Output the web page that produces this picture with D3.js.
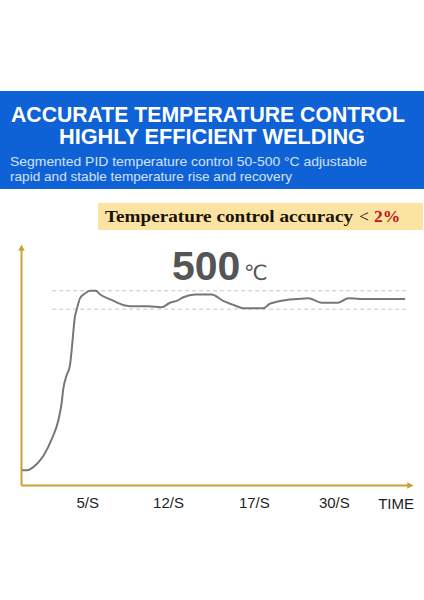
<!DOCTYPE html>
<html>
<head>
<meta charset="utf-8">
<script src="https://cdn.jsdelivr.net/npm/d3@7"></script>
<style>
  body { margin: 0; background: #fff; }
</style>
</head>
<body>
<div id="vis1"></div>
<script>
// temperature curve, time in % of the axis, temp in °C
const timeValues = [0.3, 1.4, 4.0, 5.7, 7.8, 9.5, 10.3, 10.7, 11.6, 12.4, 12.9, 13.7, 14.1, 15.0, 16.2, 17.5, 19.0,
  20.1, 23.0, 26.4, 28.9, 32.3, 35.7, 37.8, 39.5, 41.2, 44.2, 46.3, 48.4, 51.3, 54.3, 56.4, 61.5, 63.2, 64.9,
  67.4, 70.0, 72.9, 76.3, 80.5, 83.1, 86.0, 97.5];
const tempValues = [314, 314, 321, 330, 348, 369, 387, 402, 418, 428, 447, 482, 489, 502, 507, 510, 510,
  506, 500, 494, 493, 493, 492, 497, 499, 503, 506, 506, 506, 499, 494, 491, 491, 496, 498,
  500, 501, 502, 497, 497, 502, 501, 501];

// tolerance band (dashed lines)
const bandValues = [510, 490];
const bandStart = 7.9, bandEnd = 98;

// x ticks
const tickPositions = [16.8, 37.3, 59.1, 79.4];
const tickLabels = ['5/S', '12/S', '17/S', '30/S'];
const axisTitle = 'TIME';
const axisTitlePos = 95.2;

const width = 424, height = 600;
const gold = '#c9a230';

let svg1 = d3.select('#vis1')
  .append('svg')
  .attr('width', width)
  .attr('height', height)
  .attr('viewBox', [0, 0, width, height].join(' '));

// header banner
svg1.append('rect')
  .attr('x', 0).attr('y', 91)
  .attr('width', width).attr('height', 98)
  .attr('fill', '#0f62d6');

const title = [
  { t: 'ACCURATE TEMPERATURE CONTROL', x: 11, y: 121.5, w: 394 },
  { t: 'HIGHLY EFFICIENT WELDING', x: 59, y: 144, w: 306 }
];
svg1.append('g')
  .selectAll('text')
  .data(title)
  .join('text')
    .attr('x', d => d.x)
    .attr('y', d => d.y)
    .attr('textLength', d => d.w)
    .attr('lengthAdjust', 'spacingAndGlyphs')
    .attr('font-family', 'Liberation Sans, Arial, sans-serif')
    .attr('font-weight', 700)
    .attr('font-size', 22.5)
    .attr('fill', '#fff')
    .text(d => d.t);

const subtitle = [
  { t: 'Segmented PID temperature control 50-500 °C adjustable', y: 165.5, w: 357 },
  { t: 'rapid and stable temperature rise and recovery', y: 181, w: 282 }
];
svg1.append('g')
  .selectAll('text')
  .data(subtitle)
  .join('text')
    .attr('x', 10)
    .attr('y', d => d.y)
    .attr('textLength', d => d.w)
    .attr('lengthAdjust', 'spacingAndGlyphs')
    .attr('font-family', 'Liberation Sans, Arial, sans-serif')
    .attr('font-size', 13.5)
    .attr('fill', '#d3e2fb')
    .text(d => d.t);

// accuracy box
svg1.append('rect')
  .attr('x', 98).attr('y', 203)
  .attr('width', 325).attr('height', 27)
  .attr('fill', '#fbe3a2');

let acc = svg1.append('text')
  .attr('x', 105).attr('y', 222)
  .attr('font-family', 'Liberation Serif, DejaVu Serif, serif')
  .attr('font-weight', 700)
  .attr('font-size', 17.5)
  .attr('fill', '#1a1208');
acc.append('tspan').attr('textLength', 248).attr('lengthAdjust', 'spacingAndGlyphs').text('Temperature control accuracy');
acc.append('tspan').attr('font-weight', 400).attr('dx', 6).text('<');
acc.append('tspan').attr('fill', '#c1121c').attr('dx', 5).text('2%');

// chart
let x = d3.scaleLinear()
  .domain([0, 100])
  .range([21, 415]);

let y = d3.scaleLinear()
  .domain([298, 560])
  .range([485, 245]);

svg1.append('defs')
  .append('marker')
    .attr('id', 'arrow')
    .attr('viewBox', '0 -5 10 10')
    .attr('refX', 2)
    .attr('refY', 0)
    .attr('markerWidth', 3.2)
    .attr('markerHeight', 3.2)
    .attr('orient', 'auto')
  .append('path')
    .attr('d', 'M0,-5L10,0L0,5Z')
    .attr('fill', gold);

// dashed band
svg1.append('g')
  .selectAll('line')
  .data(bandValues)
  .join('line')
    .attr('x1', x(bandStart))
    .attr('x2', x(bandEnd))
    .attr('y1', d => y(d))
    .attr('y2', d => y(d))
    .attr('stroke', '#c4c4c4')
    .attr('stroke-width', 1)
    .attr('stroke-dasharray', '4,3');

// x axis
let xAxis = svg1.append('g')
  .attr('transform', `translate(0,${y(298)})`)
  .call(d3.axisBottom(x.copy().range([21, 408]).domain([0, 100 * 387 / 394]))
    .tickValues(tickPositions)
    .tickFormat((d, i) => tickLabels[i])
    .tickSize(0)
    .tickSizeOuter(0)
    .tickPadding(12));
xAxis.select('.domain')
  .attr('stroke', gold)
  .attr('stroke-width', 2)
  .attr('marker-end', 'url(#arrow)');
xAxis.selectAll('text')
  .attr('font-family', 'Liberation Sans, Arial, sans-serif')
  .attr('font-size', 15)
  .attr('fill', '#1e1e1e');

svg1.append('text')
  .attr('x', x(axisTitlePos))
  .attr('y', 508.5)
  .attr('text-anchor', 'middle')
  .attr('font-family', 'Liberation Sans, Arial, sans-serif')
  .attr('font-size', 15)
  .attr('fill', '#1e1e1e')
  .text(axisTitle);

// y axis
let yAxis = svg1.append('g')
  .attr('transform', `translate(${x(0)},0)`)
  .call(d3.axisLeft(y.copy().range([485, 249])).tickValues([]).tickSizeOuter(0));
yAxis.select('.domain')
  .attr('stroke', gold)
  .attr('stroke-width', 2)
  .attr('marker-end', 'url(#arrow)');

// 500 label
svg1.append('text')
  .attr('x', 172).attr('y', 280)
  .attr('font-family', 'Liberation Sans, Arial, sans-serif')
  .attr('font-size', 41).attr('font-weight', 700)
  .attr('fill', '#555')
  .text('500');
svg1.append('text')
  .attr('x', 244).attr('y', 280)
  .attr('font-family', 'DejaVu Sans, sans-serif')
  .attr('font-size', 21)
  .attr('fill', '#555')
  .text('℃');

// curve
let curve = timeValues.map((t, i) => [t, tempValues[i]]);
svg1.append('path')
  .datum(curve)
  .attr('fill', 'none')
  .attr('stroke', '#777')
  .attr('stroke-width', 2)
  .attr('stroke-linejoin', 'round')
  .attr('d', d3.line()
    .x(d => x(d[0]))
    .y(d => y(d[1]))
    .curve(d3.curveMonotoneX));
</script>
</body>
</html>
